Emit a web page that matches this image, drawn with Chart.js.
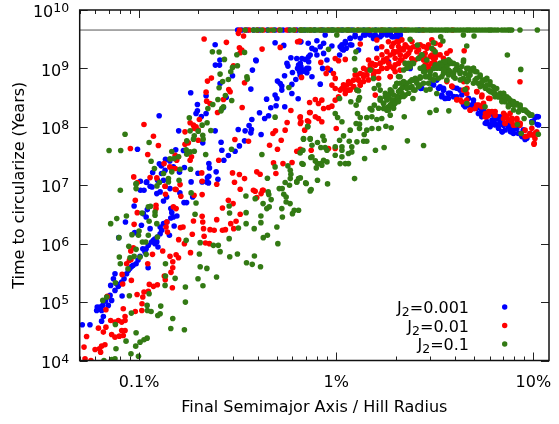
<!DOCTYPE html>
<html>
<head>
<meta charset="utf-8">
<script src="https://cdn.jsdelivr.net/npm/chart.js@4"></script>
<style>
html, body { margin: 0; padding: 0; background: #fff; }
canvas { display: block; }
</style>
</head>
<body>
<canvas id="chart" width="559" height="424"></canvas>
<script>
// Values, as [log10(percent of Hill radius), log10(years)]
const xTickValues = [0.1, 1, 10];
const xTickLabels = ['0.1%', '1%', '10%'];
const yTickExponents = [4, 5, 6, 7, 8, 9, 10];
const j2Values = ['0.001', '0.01', '0.1'];
const ageLine = [[-1.301, 9.657], [1.079, 9.657]];

// points parked at the age of the system, x only
const blueTopX = [-0.5,-0.48,-0.45,-0.42,-0.39,-0.35,-0.31,-0.27,-0.24,-0.2,-0.16,-0.11,-0.07,-0.02,0.03,0.08,0.14,0.2,0.27,0.33,0.42];
const redTopX = [-0.49,-0.46,-0.44,-0.4,-0.37,-0.33,-0.29,-0.25,-0.21,-0.18,-0.13,-0.08,-0.04,0.01,0.06,0.11,0.17,0.23,0.3,0.35,0.44,0.59];
const greenTopX = [-0.462,-0.42,-0.403,-0.378,-0.344,-0.318,-0.284,-0.233,-0.216,-0.183,-0.14,-0.175,-0.15,-0.115,-0.09,-0.06,-0.03,-0.01,0.02,0.05,0.07,0.11,0.14,0.165,0.2,0.23,0.25,0.28,0.31,0.33,0.36,0.385,0.41,0.44,0.47,0.49,0.52,0.55,0.57,0.6,0.63,0.66,0.68,0.71,0.74,0.77,0.79,0.82,0.84,0.87,0.89,0.932,1.02,
-0.165,-0.13,-0.105,-0.075,-0.045,-0.02,0.005,0.035,0.06,0.09,0.125,0.155,0.185,0.215,0.24,0.265,0.295,0.32,0.345,0.37,0.4,0.425,0.455,0.48,0.505,0.535,0.56,0.585,0.615,0.645,0.67,0.695,0.725,0.755,0.78,0.805,0.855,0.88];

const bluePoints = [
[-0.614,9.406],[-0.266,9.394],[-0.31,9.44],[-0.179,9.457],[-0.142,9.43],[-0.59,9.143],[-0.613,9.057],[-0.592,9.057],[-0.406,9.131],[-0.408,9.143],[-0.425,8.971],[-0.526,8.874],[-0.589,8.743],[-0.433,8.646],[-0.738,8.583],[-0.66,8.531],[-0.558,8.503],[-0.704,8.383],[-0.704,8.274],[-0.711,8.229],[-0.66,8.229],[-0.684,8.177],[-0.898,8.189],[-0.572,8.331],[-0.799,7.931],[-0.614,7.931],[-0.497,7.954],[-0.462,7.931],[-0.442,8.023],[-0.43,7.954],[-0.428,8.126],[-0.433,7.897],[-0.389,8.24],[-0.363,8.143],[-0.343,8.189],[-0.332,8.326],[-0.305,8.36],[-0.353,8.474],[-0.31,8.543],[-0.301,8.486],[-0.261,8.343],[-0.225,8.571],[-0.193,8.48],[-0.298,8.783],[-0.284,8.743],[-0.276,8.697],[-0.276,8.629],[-0.225,8.726],[-0.205,8.811],[-0.183,8.886],[-0.262,8.874],[-0.222,8.931],[-0.25,9.086],[-0.245,9.04],[-0.23,9.183],[-0.2,9.171],[-0.174,9.171],[-0.14,9.2],[-0.191,9.057],[-0.196,9.0],[-0.179,9.03],[-0.166,8.954],[-0.186,8.943],[-0.14,9.0],[-0.149,8.926],[-0.381,7.869],[-0.465,7.76],[-0.491,7.674],[-0.513,7.583],[-0.547,7.509],[-0.584,7.737],[-0.58,7.6],[-0.57,7.429],[-0.677,7.726],[-1.008,7.617],[-0.814,7.606],[-0.775,7.594],[-0.866,7.446],[-0.897,7.366],[-0.887,7.331],[-0.844,7.417],[-0.826,7.314],[-0.868,7.257],[-0.931,7.217],[-0.77,7.303],[-0.795,7.223],[-0.886,7.2],[-0.906,7.086],[-0.876,7.086],[-0.993,7.069],[-0.963,7.046],[-0.934,6.971],[-0.736,7.057],[-0.701,7.206],[-0.646,7.371],[-0.643,7.297],[-0.653,7.131],[-0.646,7.154],[-0.609,7.229],[-0.6,7.103],[-0.657,7.057],[-0.68,7.057],[-0.648,7.04],
[-0.993,6.914],[-0.975,6.914],[-0.961,7.06],[-0.944,6.983],[-0.843,6.943],[-0.893,6.886],[-0.91,6.857],[-0.86,6.8],[-0.793,6.869],[-0.876,6.731],[-1.025,6.646],[-0.958,6.583],[-0.772,6.703],[-0.759,6.703],[-0.728,6.8],[-0.839,6.6],[-0.834,6.531],[-0.808,6.474],[-0.826,6.457],[-0.839,6.44],[-0.964,6.457],[-0.978,6.514],[-1.069,6.371],[-0.988,6.314],[-0.944,6.257],[-0.893,6.286],[-0.876,6.343],[-0.859,6.371],[-0.822,6.303],[-0.846,6.143],[-0.885,6.229],[-0.893,6.171],[-0.907,6.114],[-0.927,6.057],[-0.919,6],[-0.936,6.029],[-0.904,5.943],[-1.022,6.189],[-1.103,6.103],[-0.953,5.971],[-0.964,5.914],[-0.981,5.914],[-0.995,5.783],[-1.015,5.657],[-1.037,5.611],[-1.054,5.543],[-0.954,5.589],[-1.076,5.4],[-1.122,5.486],[-1.13,5.4],[-1.088,5.343],[-1.105,5.269],[-1.144,5.286],[-1.122,5.2],[-1.147,5.114],[-1.086,5.103],[-1.139,5.029],[-1.156,4.943],[-1.198,4.914],[-1.212,4.914],[-1.215,4.857],[-1.19,4.857],[-1.184,4.943],[-1.181,4.754],[-1.19,4.674],[-1.249,4.611],[-1.288,4.611],[-1.063,5.486],[-1.114,5.314],[-1.161,5.086],[-1.17,5.017],[-1.005,5.72],[-1.03,5.63],[-1.046,5.58],[-0.97,5.86],[-0.92,6.08],[-0.91,6.03],
[-0.182,9.457],[-0.098,9.474],[-0.056,9.571],[-0.064,9.429],[-0.081,9.371],[-0.123,9.343],[-0.106,9.314],[-0.132,9.229],[-0.157,9.154],[-0.182,9.086],[-0.14,9.114],[-0.098,9.229],[-0.064,9.257],[-0.047,9.143],[-0.166,8.971],[-0.182,8.943],[-0.149,9],[-0.123,8.857],[-0.081,8.731],[-0.069,9],[-0.03,8.971],
[-0.022,9.383],[0.017,9.229],[0.037,9.314],[0.02,9.371],[0.046,9.429],[0.079,9.4],[0.071,9.514],[0.096,9.571],[0.139,9.571],[0.164,9.6],[0.189,9.514],[0.223,9.543],[0.257,9.571],[0.291,9.543],[0.324,9.514],[0.198,9.571],[0.231,9.6],[0.274,9.6],[0.307,9.6],[0.265,9.114],[0.206,9.343],[0.113,9.314],[0.375,9],
[0.029,9.403],[0.046,9.46],[0.071,9.517],[0.096,9.545],[0.122,9.517],[0.147,9.574],[0.173,9.574],[0.198,9.545],[0.232,9.574],[0.257,9.602],[0.282,9.545],[0.308,9.545],[0.325,9.574],[0.071,9.403],[0.051,9.345],[0.029,9.334],
[0.429,8.657],[0.485,8.743],[0.51,8.8],[0.527,8.686],[0.544,8.629],[0.552,8.486],[0.535,8.514],[0.569,8.571],[0.595,8.674],[0.611,8.514],[0.628,8.629],[0.654,8.343],[0.671,8.371],[0.696,8.4],[0.721,8.229],[0.738,8.286],[0.764,8.057],[0.789,8.057],[0.814,8.143],[0.806,8.057],[0.831,8.171],[0.823,8.029],[0.843,7.914],[0.882,7.971],[0.899,7.886],[0.924,7.886],[0.958,7.783],[0.983,7.886],[0.949,7.943],[1.0,8.086],[1.025,8.171],[1.02,8.04],[1.008,8.16],[0.797,8.114],[0.831,8.086],[0.848,8.029],[0.873,8.057],[0.916,7.971],[0.941,7.857],[0.89,7.914],[0.738,8.171],[0.696,8.314],
[0.494,8.718],[0.519,8.661],[0.544,8.632],[0.57,8.575],[0.434,8.661],[0.544,8.66],[0.536,8.546],[0.553,8.489],[0.578,8.575],[0.612,8.66],[0.637,8.546],[0.671,8.489],[0.696,8.46],[0.646,8.375],[0.713,8.318],[0.739,8.232],[0.764,8.089],[0.79,8.118],[0.815,8.175],[0.806,8.032],[0.832,8.061],[0.84,7.918],[0.874,8.004],[0.899,7.947],[0.925,7.89],[0.95,7.947],[0.967,7.804],[0.992,8.089],[1.018,8.175],[1.026,8.032],[0.756,8.061],[0.857,7.947],[0.89,8.03],
[0.781,8.004],[0.823,7.975],[0.798,8.204],[0.883,7.918],[0.942,7.833],[0.747,8.289],[0.688,8.375],[0.57,8.489],[0.595,8.517]
];

const redPoints = [
[-0.67,9.503],[-0.557,9.446],[-0.496,9.6],[-0.47,9.554],[-0.491,9.354],[-0.479,9.314],[-0.487,9.269],[-0.376,9.331],[-0.284,9.36],[-0.196,9.457],[-0.186,9.469],[-0.176,8.846],[-0.521,9.046],[-0.653,8.783],[-0.633,8.834],[-0.465,8.754],[-0.66,8.594],[-0.545,8.64],[-0.538,8.6],[-0.572,8.469],[-0.657,8.44],[-0.64,8.4],[-0.602,8.246],[-0.477,8.331],[-0.23,8.28],[-0.135,8.417],[-0.135,8.246],[-0.183,8.16],[-0.179,8.086],[-0.146,8.103],[-0.249,8.074],[-0.259,7.943],[-0.308,7.931],[-0.321,7.886],[-0.16,7.943],[-0.279,7.771],[-0.514,7.783],[-0.445,7.754],[-0.338,7.686],[-0.298,7.617],[-0.2,7.583],[-0.127,7.6],[-0.224,7.389],[-0.27,7.371],[-0.975,8.04],[-0.927,7.84],[-0.902,7.68],[-1.044,7.629],[-0.956,7.526],[-0.767,7.914],[-0.741,8.069],[-0.724,8.029],[-0.711,8],[-0.7,7.943],[-0.72,7.971],[-0.694,8.126],[-0.767,7.703],[-0.75,7.726],[-0.7,7.771],[-0.734,7.486],[-0.741,7.429],[-0.817,7.514],[-0.8,7.486],[-0.596,7.429],[-0.809,7.429],[-0.844,7.314],[-0.834,7.286],[-0.816,7.286],[-0.873,7.371],[-0.944,7.131],[-0.91,7.126],[-1.027,7.143],[-1.008,7.046],[-0.868,6.983],[-0.817,6.931],[-0.792,7.011],[-0.682,7.211],[-0.68,7.069],[-0.606,7.017],[-0.526,7.211],[-0.516,7.051],[-0.491,7.183],[-0.465,7.114],[-0.487,6.931],[-0.403,7.229],[-0.386,7.189],[-0.306,7.2],[-0.318,7.383],[-0.42,6.914],[-0.37,6.914],
[-1.019,6.743],[-1.009,6.531],[-0.914,6.657],[-0.914,6.6],[-0.868,6.983],[-0.866,6.846],[-0.812,6.926],[-0.788,6.811],[-0.826,6.629],[-0.812,6.6],[-0.859,6.371],[-0.863,6.286],[-0.79,6.274],[-0.777,6.286],[-0.856,6.2],[-0.799,6.069],[-0.77,6],[-0.73,6.16],[-0.724,6.389],[-0.68,6.469],[-0.677,6.371],[-0.673,6.257],[-0.67,6.126],[-0.663,6.011],[-0.643,6],[-0.64,6.24],[-0.619,6.229],[-0.606,6.411],[-0.577,6.611],[-0.547,6.743],[-0.523,6.686],[-0.487,6.503],[-0.508,6.383],[-0.535,6.343],[-0.52,6.257],[-0.577,6.229],[-0.562,6.24],[-0.411,6.897],[-0.374,6.914],[-0.381,6.857],[-0.403,6.789],[-0.721,6.829],[-0.68,6.84],[-0.739,5.846],[-1.025,6.331],[-0.88,5.874],[-0.932,5.817],[-0.956,5.657],[-1.042,5.874],[-1.029,5.931],[-1.063,5.657],[-1.049,5.714],[-1.041,5.731],[-1.086,5.474],[-1.083,5.309],[-1.039,5.371],[-0.812,5.811],[-0.843,5.783],[-0.8,5.76],[-0.829,5.691],[-0.829,5.589],[-0.838,5.509],[-0.872,5.446],[-0.867,5.383],[-0.831,5.246],[-0.907,5.297],[-0.927,5.269],[-0.948,5.303],[-0.953,5.183],[-0.975,5.171],[-0.981,5.086],[-1.01,5.131],[-0.985,4.971],[-0.986,4.857],[-1.019,4.84],[-1.08,4.886],[-1.161,5.097],[-1.168,4.869],[-1.071,4.754],[-1.144,4.686],[-1.122,4.657],[-1.105,4.686],[-1.088,4.657],[-1.071,4.686],[-1.168,4.571],[-1.181,4.486],[-1.206,4.554],[-1.139,4.446],[-1.122,4.4],[-1.1,4.417],[-1.08,4.429],[-1.088,4.514],[-1.071,4.514],[-1.266,4.411],[-1.279,4.229],[-1.223,4.189],[-1.201,4.2],[-1.173,4.269],[-1.19,4.246],[-1.195,4.143],[-1.274,4.029],[-1.244,4.0],
[-0.005,9.171],[0.012,9.131],[0.046,9.154],[-0.078,9.103],[-0.044,9],[-0.051,8.914],[-0.014,8.914],[-0.005,8.829],[-0.022,8.714],[-0.005,8.657],[0.02,8.629],[0.037,8.657],[0.054,8.714],[0.071,8.743],[0.088,8.8],[0.105,8.886],[0.122,8.914],[0.139,8.857],[0.113,8.8],[0.088,8.686],[0.062,8.629],[0.046,8.571],[0.029,8.657],[0.012,8.514],[-0.005,8.457],[-0.022,8.354],[-0.039,8.331],[-0.064,8.314],[-0.09,8.4],[-0.106,8.469],[-0.073,8.457],[-0.132,8.246],[-0.106,8.171],[-0.09,8.143],[-0.073,8.086],[-0.182,8.171],[-0.182,8.057],[-0.14,8.086],[0,7.971],[-0.039,7.629],[-0.005,7.629],[-0.182,7.617],
[0.164,9.143],[0.181,9.086],[0.198,9.057],[0.223,9.086],[0.24,9.143],[0.257,9.171],[0.274,9.229],[0.291,9.257],[0.307,9.286],[0.324,9.314],[0.341,9.343],[0.358,9.371],[0.375,9.314],[0.392,9.371],[0.409,9.286],[0.426,9.2],[0.451,9.171],[0.291,9.429],[0.316,9.457],[0.265,9.457],[0.231,9.371],[0.206,9.486],[0.122,9.417],[0.172,9],[0.155,8.971],[0.139,9],[0.198,8.943],[0.231,9],[0.274,8.857],[0.299,8.943],[0.324,8.971],[0.358,9.229],[0.383,9.171],[0.4,9.143],[0.291,9],[0.316,9.086],[0.333,9.143],[0.35,9.086],[0.578,9.303],[0.649,9.303],[0.932,8.771],[0.485,9.229],[0.493,9.171],[0.502,9.086],[0.468,9],[0.451,9.057],[0.198,8.543],[0.122,8.714],[0.105,8.629],
[0.037,8.718],[0.063,8.775],[0.088,8.689],[0.113,8.803],[0.046,8.632],[0.071,8.632],[0.139,8.889],[0.164,8.803],[0.189,8.889],[0.139,8.775],[0.215,8.946],[0.223,9.089],[0.198,9.06],[0.249,9.146],[0.274,9.032],[0.299,9.174],[0.325,9.231],[0.291,9.288],[0.316,9.374],[0.341,9.317],[0.367,9.26],[0.274,8.86],[0.232,9.003],[0.257,9.003],[0.215,8.832],[0.181,8.975],[0.418,9.317],[0.443,9.374],[0.468,9.403],[0.494,9.317],[0.451,9.26],[0.477,9.203],[0.426,9.203],[0.51,9.231],[0.485,9.089],[0.46,9.117],[0.401,9.374],[0.375,9.345],[0.527,9.403],[0.502,9.431],[0.561,9.26],
[0.096,8.889],[0.122,8.718],[0.156,8.889],[0.173,9.06],[0.206,9.174],[0.232,9.231],[0.257,9.288],[0.282,9.374],[0.308,9.46],[0.333,9.488],[0.35,9.403],[0.24,9.117],[0.266,9.089],[0.299,9.06],[0.325,9.146],[0.35,9.203],[0.384,9.46],[0.443,9.146],[0.468,9.032],[0.502,9.174],[0.527,9.231],[0.544,9.174],[0.426,9.403],[0.46,9.345],[0.485,9.488],
[0.586,8.697],[0.645,8.629],[0.662,8.571],[0.611,8.469],[0.637,8.429],[0.662,8.457],[0.713,8.6],[0.738,8.514],[0.78,8.486],[0.713,8.371],[0.738,8.343],[0.704,8.314],[0.679,8.286],[0.757,8.229],[0.789,8.257],[0.806,8.2],[0.856,8.2],[0.873,8.114],[0.848,8.143],[0.89,8.086],[0.916,8.143],[0.856,8.057],[0.899,8.029],[0.932,8.029],[0.958,7.943],[0.983,7.886],[1,7.857],[1.003,7.703],[1.017,7.914],[0.966,7.84],[1.008,7.8],[0.772,8.2],[0.755,8.171],
[0.561,8.774],[0.587,8.689],[0.646,8.774],[0.663,8.66],[0.713,8.603],[0.739,8.546],[0.773,8.489],[0.722,8.375],[0.747,8.403],[0.68,8.289],[0.773,8.261],[0.764,8.175],[0.79,8.261],[0.849,8.232],[0.866,8.175],[0.891,8.147],[0.916,8.118],[0.857,8.061],[0.933,8.061],[0.908,8.032],[0.992,7.975],[1.009,7.89],[0.984,7.861],[0.958,7.833],[1.004,7.718],[0.629,8.46],[0.612,8.46],[0.663,8.403],[0.806,8.261],[0.882,8.232]
];

const greenPoints = [
[-0.628,9.286],[-0.594,9.28],[-0.567,9.154],[-0.589,8.903],[-0.504,9.234],[-0.465,9.274],[-0.501,9.046],[-0.526,9.017],[-0.535,8.943],[-0.453,8.857],[-0.451,8.817],[-0.547,8.811],[-0.576,8.777],[-0.594,8.669],[-0.562,8.537],[-0.6,8.469],[-0.53,8.451],[-0.626,8.383],[-0.651,8.314],[-0.572,8.343],[-0.58,8.314],[-0.584,8.274],[-0.745,8.154],[-0.655,8.069],[-0.68,8.029],[-0.741,7.931],[-0.7,7.926],[-0.636,7.937],[-0.72,7.846],[-0.677,7.857],[-0.675,7.789],[-0.758,7.76],[-0.724,7.789],[-1.071,7.874],[-0.949,7.731],[-1.152,7.594],[-1.093,7.594],[-0.834,7.577],[-0.761,7.606],[-0.741,7.571],[-0.72,7.583],[-0.758,7.531],[-0.662,7.526],[-0.843,7.451],[-0.8,7.486],[-0.822,7.457],[-0.939,7.411],[-0.739,7.274],[-0.922,7.286],[-0.792,7.274],[-0.876,7.2],[-0.834,7.229],[-0.851,7.114],[-0.851,7.057],[-0.797,7.086],[-0.897,7.046],[-0.909,6.989],[-1.015,7.029],[-1.015,6.943],[-1.095,6.914],[-0.531,7.617],[-0.377,7.526],[-0.31,8.166],[-0.24,8.674],[-0.31,7.314],[-0.349,7.12],[-0.245,7.331],[-0.233,7.257],[-0.23,7.189],[-0.233,7.114],[-0.191,7.114],[-0.2,7.057],[-0.259,7.046],[-0.237,7],[-0.152,7.029],[-0.274,6.943],[-0.168,7.36],[-0.183,7.554],[-0.166,7.789],[-0.132,7.8],[-0.144,8],[-0.129,7.474],
[-1.144,6.343],[-1.113,6.429],[-1.064,6.474],[-1.015,7.017],[-0.985,6.526],[-0.953,6.629],[-0.942,6.64],[-0.919,6.543],[-0.919,6.486],[-0.949,6.383],[-0.91,6.343],[-1.102,6.103],[-1.036,6.154],[-1,6.217],[-1.003,6.143],[-0.953,6.143],[-0.907,6.114],[-0.983,6.029],[-0.966,6.029],[-1.052,5.954],[-1.015,5.903],[-0.964,5.817],[-1.046,5.76],[-1.025,5.783],[-1.1,5.771],[-1.095,5.657],[-0.995,5.771],[-1.056,5.571],[-1.12,5.331],[-0.866,5.657],[-0.866,5.446],[-0.817,5.406],[-0.868,5.286],[-0.765,5.257],[-0.765,5],[-0.89,4.931],[-0.893,4.8],[-0.905,4.771],[-0.959,4.943],[-0.958,4.857],[-0.939,4.84],[-0.949,5.143],[-1.049,5.109],[-1.039,4.811],[-1.184,5.029],[-1.164,5.086],[-1.12,4.617],[-0.829,4.72],[-0.839,4.549],[-0.77,4.526],[-1.015,4.474],[-0.959,4.383],[-0.975,4.354],[-0.995,4.314],[-1.017,4.246],[-1.066,4.331],[-1.117,4.2],[-1.041,4.114],[-1.003,4.074],[-1.178,4],[-1.139,4.017],[-1.122,4.029],
[-0.761,6.057],[-0.69,6.017],[-0.694,5.823],[-0.623,5.971],[-0.598,5.971],[-0.589,5.863],[-0.69,5.606],[-0.656,5.577],[-0.701,5.4],[-0.676,5.28],[-0.607,5.429],[-0.716,6.503],[-0.711,6.697],[-0.736,6.869],[-0.543,6.646],[-0.541,6.526],[-0.457,6.531],[-0.457,6.343],[-0.496,6.269],[-0.416,6.257],[-0.382,6.474],[-0.382,6.36],[-0.37,6.103],[-0.349,6.143],[-0.301,6.286],[-0.296,6],[-0.543,6.086],[-0.54,5.777],[-0.501,5.823],[-0.455,5.674],[-0.426,5.646],[-0.415,5.789],[-0.384,5.606],[-0.458,6.817],[-0.411,6.771],[-0.371,6.686],[-0.345,6.886],[-0.342,6.84],[-0.33,6.754],[-0.352,6.6],[-0.34,6.629],[-0.289,6.943],[-0.266,6.846],[-0.254,6.8],[-0.254,6.714],[-0.234,6.686],[-0.276,6.6],[-0.273,6.457],[-0.222,6.514],[-0.191,6.571],[-0.213,6.571],[-0.132,6.903],[-0.2,7.057],
[-0.145,8.011],[-0.166,7.8],[-0.132,7.789],[-0.123,7.686],[-0.095,7.731],[-0.068,7.84],[-0.061,7.771],[-0.078,7.646],[-0.056,7.646],[-0.047,7.6],[-0.123,7.486],[-0.106,7.417],[-0.095,7.371],[-0.101,7.297],[-0.078,7.371],[-0.064,7.429],[-0.047,7.4],[-0.073,7.343],[-0.174,7.371],[-0.169,7.6],[-0.005,7.657],[-0.005,7.514],[0.017,7.771],[0.037,7.846],[0.029,7.657],[0.029,7.6],[0.029,7.486],[0.02,7.371],[0.046,7.371],[0.062,7.371],[0.062,7.543],[0.079,7.571],[0.079,7.657],[0.066,7.754],[0.105,7.743],[0.139,7.754],[0.155,7.754],[0.144,7.457],[0.199,7.6],[0.243,7.646],[0.361,7.76],[0.443,7.68],[0.093,7.114],[-0.155,7.04],[-0.095,7.086],[-0.044,7.023],[-0.127,6.926],[-0.182,7.126],
[-0.005,8.229],[0.007,8.16],[0.029,8.086],[0.071,7.943],[0.017,8.486],[0.074,8.429],[0.118,8.503],[0.113,8.457],[0.101,8.371],[0.108,8.229],[0.122,8.16],[0.118,8.046],[0.101,8.057],[0.118,7.971],[0.142,7.869],[0.155,7.943],[0.181,7.971],[0.215,7.971],[0.252,8.011],[0.279,7.983],[0.155,8.16],[0.181,8.171],[0.206,8.126],[0.231,8.143],[0.172,8.314],[0.193,8.371],[0.223,8.457],[0.24,8.314],[0.265,8.343],[0.282,8.4],[0.248,8.514],[0.274,8.571],[0.299,8.457],[0.316,8.514],[0.345,8.171],[0.193,8.657],[0.223,8.629],[0.215,8.714],[0.105,8.629],[0.113,8.617],[0.096,8.971],[0.172,8.971],[0.189,8.829],[0.1,9.286],[0.093,9.171],[-0.039,9.326],[0.003,9.571],
[0.307,8.743],[0.324,8.857],[0.341,8.686],[0.358,8.743],[0.375,8.674],[0.392,8.8],[0.409,8.8],[0.426,8.857],[0.443,8.943],[0.459,8.857],[0.476,8.886],[0.493,9],[0.51,9.029],[0.527,9.086],[0.544,9.114],[0.561,9.057],[0.578,9.086],[0.595,9.086],[0.611,9],[0.628,8.914],[0.645,9.114],[0.662,9],[0.679,8.886],[0.696,9],[0.713,8.943],[0.73,8.886],[0.747,8.8],[0.764,8.829],[0.78,8.771],[0.797,8.686],[0.814,8.657],[0.831,8.543],[0.848,8.571],[0.865,8.514],[0.882,8.457],[0.899,8.371],[0.916,8.4],[0.932,8.343],[0.949,8.286],[0.966,8.257],[0.983,8.2],[0.953,8.143],[0.992,8.069],[0.919,8.04],[0.938,7.886],[1.025,7.874],[0.936,8.983],[0.868,9.229],[0.662,9.383],[0.645,9.571],[0.699,9.554],[0.53,9.543],[0.541,9.469],[0.412,9.4],[0.375,9.497],[0.493,9.44],[0.485,9.343],[0.502,9.286],[0.434,9.229],[0.417,9.171],[0.459,9.143],[0.392,9.086],[0.35,9.086],[0.375,9.029],[0.443,9.029],
[0.324,8.629],[0.35,8.543],[0.389,8.486],[0.4,8.629],[0.426,8.714],[0.456,8.629],[0.476,8.646],[0.51,8.571],[0.475,8.246],[0.507,8.286],[0.571,8.274],[0.654,8.64],[0.662,8.4],[0.755,8.343],[0.645,8.829],[0.671,8.8],[0.704,8.8],[0.721,8.743],[0.738,8.714],[0.755,8.686],[0.772,8.629],[0.789,8.6],[0.806,8.571],[0.823,8.514],[0.84,8.486],[0.856,8.429],[0.873,8.343],[0.924,8.257],[0.544,8.971],[0.569,8.914],[0.595,8.857],[0.62,8.971],[0.561,8.8],[0.24,8.4],[0.257,8.286],[0.274,8.2],[0.3,8.43],[0.32,8.5],[0.29,8.36],
[0.223,8.489],[0.249,8.575],[0.274,8.632],[0.299,8.689],[0.325,8.746],[0.35,8.746],[0.375,8.775],[0.401,8.832],[0.426,8.832],[0.451,8.86],[0.477,8.832],[0.502,8.889],[0.527,9.003],[0.553,9.032],[0.578,9.089],[0.502,9.06],[0.527,9.089],[0.342,8.974],[0.367,9.089],[0.316,8.86],[0.257,8.461],[0.282,8.461],[0.308,8.518],[0.333,8.575],[0.358,8.661],[0.384,8.689],[0.274,8.375],[0.299,8.404],[0.249,8.318],[0.215,8.318],[0.181,8.289],[0.333,8.661],[0.409,8.746],[0.561,8.946],[0.536,8.86],[0.477,8.946],[0.443,9.003],[0.418,9.174],[0.434,9.231],
[0.24,8.404],[0.266,8.518],[0.291,8.546],[0.316,8.603],[0.342,8.518],[0.316,8.432],[0.291,8.318],[0.266,8.289],[0.367,8.575],[0.392,8.632],[0.418,8.689],[0.358,8.746],[0.384,8.803],[0.443,8.746],[0.468,8.746],[0.494,8.803],[0.519,8.832],[0.544,8.917],[0.57,8.974],[0.451,8.946],[0.426,9.003],[0.51,9.003],[0.544,9.089],[0.57,9.146],[0.358,9.003],[0.384,9.089],[0.342,8.775],[0.308,8.746],[0.282,8.603],
[0.536,9.06],[0.561,9.031],[0.578,8.946],[0.603,8.974],[0.629,8.946],[0.654,8.917],[0.68,8.946],[0.705,8.946],[0.73,8.86],[0.756,8.803],[0.781,8.717],[0.806,8.66],[0.832,8.575],[0.857,8.489],[0.882,8.432],[0.908,8.375],[0.933,8.318],[0.958,8.289],[0.975,8.232],[0.992,8.204],[0.603,8.831],[0.629,8.803],[0.663,8.774],[0.696,8.746],[0.73,8.689],[0.756,8.66],[0.781,8.603],[0.806,8.517],[0.84,8.432],[0.874,8.375],[0.899,8.289],[0.925,8.261],[0.553,9.117],[0.646,9.145],
[0.671,8.86],[0.713,8.831],[0.739,8.774],[0.764,8.717],[0.798,8.575],[0.823,8.517],[0.849,8.575],[0.874,8.489],[0.899,8.432],[0.933,8.375],[0.578,9.117],[0.612,9.06],[0.637,9.031],[0.544,8.974],[0.57,8.889],[0.595,8.917],[0.671,9.003],[0.696,9.003]
];

const colBlue = '#0000ff';
const colRed = '#ff0000';
const colGreen = '#337a14';
const fontName = '"DejaVu Sans"';

function toXY(p) { return { x: 10 ** p[0], y: 10 ** p[1] }; }
function topRow(xs) { return xs.map(x => toXY([x, ageLine[0][1]])); }

function pointSet(label, points, topX, color, order) {
    return {
        label: label,
        data: topRow(topX).concat(points.map(toXY)),
        backgroundColor: color,
        borderWidth: 0,
        pointRadius: 2.8,
        order: order
    };
}

// gnuplot style frame: inward ticks on all four sides, J2 key, y labels with exponent
const framePlugin = {
    id: 'frame',
    afterDatasetsDraw(chart) {
        const c = chart.ctx, a = chart.chartArea, xs = chart.scales.x, ys = chart.scales.y;
        c.save();
        c.strokeStyle = '#222';
        c.lineWidth = 1;
        c.beginPath();
        for (let e = -2; e <= 1; e++) {
            for (let m = 1; m <= 9; m++) {
                const v = m * 10 ** e;
                if (v < xs.min || v > xs.max) continue;
                const px = Math.round(xs.getPixelForValue(v)) + 0.5, len = m === 1 ? 8 : 4;
                c.moveTo(px, a.bottom); c.lineTo(px, a.bottom - len);
                c.moveTo(px, a.top); c.lineTo(px, a.top + len);
            }
        }
        yTickExponents.forEach(e => {
            const py = Math.round(ys.getPixelForValue(10 ** e)) + 0.5;
            c.moveTo(a.left, py); c.lineTo(a.left + 8, py);
            c.moveTo(a.right, py); c.lineTo(a.right - 8, py);
        });
        c.stroke();
        c.lineWidth = 1.5;
        c.strokeStyle = '#111';
        c.strokeRect(a.left, a.top, a.right - a.left, a.bottom - a.top);

        c.fillStyle = '#000';
        c.textBaseline = 'alphabetic';
        c.textAlign = 'right';
        yTickExponents.forEach(e => {
            const py = ys.getPixelForValue(10 ** e) + 7.2;
            const exp = String(e);
            c.font = '12.5px ' + fontName;
            c.fillText(exp, a.left - 10.5, py - 5.2);
            const w = c.measureText(exp).width;
            c.font = '16px ' + fontName;
            c.fillText('10', a.left - 10.5 - w, py);
        });

        // key: text first, marker after it, 2 set as a subscript
        j2Values.forEach((val, i) => {
            const py = 307 + i * 18.5;
            const rest = '=' + val;
            c.font = '16px ' + fontName;
            c.textAlign = 'right';
            c.fillStyle = '#000';
            c.fillText(rest, 469, py + 6);
            let edge = 469 - c.measureText(rest).width;
            c.font = '12.5px ' + fontName;
            c.fillText('2', edge, py + 9);
            edge -= c.measureText('2').width;
            c.font = '16px ' + fontName;
            c.fillText('J', edge, py + 6);
            c.fillStyle = [colBlue, colRed, colGreen][i];
            c.beginPath();
            c.arc(504.7, py, 2.7, 0, Math.PI * 2);
            c.fill();
        });
        c.restore();
    }
};

new Chart(document.getElementById('chart'), {
    type: 'scatter',
    data: {
        datasets: [
            { label: 'age', data: ageLine.map(toXY), showLine: true, borderColor: '#555', borderWidth: 1, pointRadius: 0, order: 4 },
            pointSet('J2=' + j2Values[0], bluePoints, blueTopX, colBlue, 3),
            pointSet('J2=' + j2Values[1], redPoints, redTopX, colRed, 2),
            pointSet('J2=' + j2Values[2], greenPoints, greenTopX, colGreen, 1)
        ]
    },
    plugins: [framePlugin],
    options: {
        responsive: false,
        animation: false,
        layout: { padding: { top: 10, right: 10, left: 0, bottom: 0 } },
        plugins: { legend: { display: false }, tooltip: { enabled: false } },
        scales: {
            x: {
                type: 'logarithmic',
                min: 0.05,
                max: 12,
                grid: { display: false },
                border: { display: false },
                afterFit(s) { s.height = 63.5; },
                afterBuildTicks(s) { s.ticks = xTickValues.map(v => ({ value: v })); },
                ticks: {
                    autoSkip: false,
                    maxRotation: 0,
                    color: '#000',
                    padding: 5,
                    font: { family: fontName, size: 16 },
                    callback: v => xTickLabels[xTickValues.indexOf(v)]
                },
                title: { display: true, text: 'Final Semimajor Axis / Hill Radius', color: '#000', padding: { top: 0, bottom: 6.5 }, font: { family: fontName, size: 16 } }
            },
            y: {
                type: 'logarithmic',
                min: 1e4,
                max: 1e10,
                grid: { display: false },
                border: { display: false },
                afterFit(s) { s.width = 79.7; },
                afterBuildTicks(s) { s.ticks = yTickExponents.map(e => ({ value: 10 ** e })); },
                ticks: { display: false },
                title: { display: true, text: 'Time to circularize (Years)', color: '#000', padding: { top: 10, bottom: 0 }, font: { family: fontName, size: 16 } }
            }
        }
    }
});
</script>
</body>
</html>
